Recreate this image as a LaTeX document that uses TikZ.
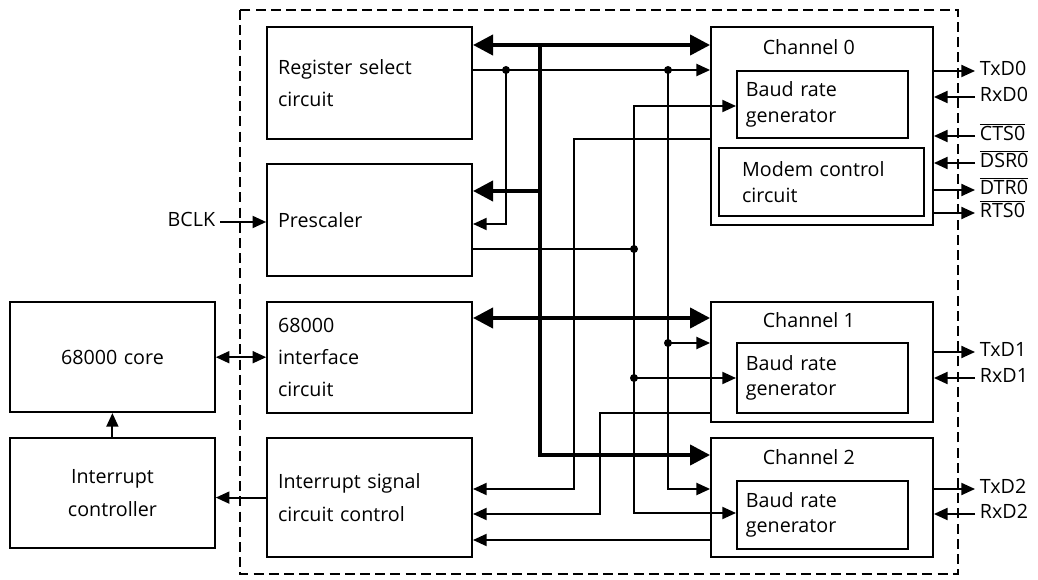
\documentclass[tikz,border=0pt]{standalone}
\usepackage{fontspec}
\setmainfont{Open Sans}
\usetikzlibrary{arrows.meta, positioning}
\tikzset{
  every picture/.style={line width=1.3pt},
  box/.style={draw, align=left, inner xsep=0.275cm, text width=#1, font=\fontsize{14}{23}\selectfont},
  box/.default=4.575cm,
  inbox/.style={draw, align=left, inner xsep=0.225cm, text width=#1, font=\fontsize{14}{18}\selectfont},
  inbox/.default=3.825cm,
  chan/.style={draw, minimum width=5.55cm},
  arrow/.style={-{Triangle[length=0.34cm, width=0.3cm]}},
  twoway/.style={{Triangle[length=0.34cm, width=0.3cm]}-{Triangle[length=0.34cm, width=0.3cm]}},
  bus/.style={line width=2.8pt, -{Triangle[length=0.5cm, width=0.5cm]}},
  busboth/.style={line width=2.8pt, {Triangle[length=0.5cm, width=0.5cm]}-{Triangle[length=0.5cm, width=0.5cm]}},
  pin/.style={font=\fontsize{14}{16}\selectfont, text height=1.5ex, text depth=.25ex, inner xsep=0.1cm},
  frame/.style={dash pattern=on 0.25cm off 0.13cm},
}

\begin{document}
\begin{tikzpicture}
  \useasboundingbox (0,0) rectangle (25.95,-14.5);
  % chip border
  \draw[frame] (6.0,-0.25) rectangle (23.95,-14.35);
  % left column inside the chip
  \node[box, minimum height=2.8cm] (reg) at (9.24,-2.08) {Register select\\circuit};
  \node[box, minimum height=2.8cm] (pre) at (9.24,-5.5) {Prescaler};
  \node[box, minimum height=2.78cm] (iface) at (9.24,-8.94) {68000\\interface\\circuit};
  \node[box, minimum height=2.98cm] (isig) at (9.24,-12.44) {Interrupt signal\\circuit control};
  % outside the chip
  \node[box, align=center, minimum height=2.75cm] (core) at (2.81,-8.93) {68000 core};
  \node[box, align=center, minimum height=2.75cm] (ictl) at (2.81,-12.33) {Interrupt\\controller};
  \node[pin, anchor=east] (bclk) at (5.5,-5.55) {BCLK};
  % channels
  \node[chan, minimum height=4.95cm] (ch0) at (20.55,-3.15) {};
  \node[inbox, minimum height=1.675cm] (brg0) at (20.56,-2.61) {Baud rate\\generator};
  \node[inbox=3.975cm, inner xsep=0.575cm, minimum height=1.7cm] (mdm0) at (20.54,-4.55) {Modem control\\circuit};
  \node[chan, minimum height=3.0cm] (ch1) at (20.55,-9.05) {};
  \node[inbox, minimum height=1.75cm] (brg1) at (20.56,-9.45) {Baud rate\\generator};
  \node[chan, minimum height=2.98cm] (ch2) at (20.55,-12.44) {};
  \node[inbox, minimum height=1.7cm] (brg2) at (20.56,-12.88) {Baud rate\\generator};
  \foreach \n/\y/\t in {ch0lbl/-1.25/Channel 0, ch1lbl/-8.075/Channel 1, ch2lbl/-11.5/Channel 2}
    \node[pin] (\n) at (20.22,\y) {\t};
  % pins on the right
  \foreach \n/\y/\t in {txd0/-1.775/TxD0, rxd0/-2.425/RxD0, cts0/-3.4/{$\overline{\hbox{CTS0}}$},
      dsr0/-4.075/{$\overline{\hbox{DSR0}}$}, dtr0/-4.75/{$\overline{\hbox{DTR0}}$}, rts0/-5.325/{$\overline{\hbox{RTS0}}$},
      txd1/-8.8/TxD1, rxd1/-9.45/RxD1, txd2/-12.225/TxD2, rxd2/-12.85/RxD2}
    \node[pin, anchor=west] (\n) at (24.375,\y) {\t};
  \foreach \c/\n in {ch0/txd0, ch0/dtr0, ch0/rts0, ch1/txd1, ch2/txd2}
    \draw[arrow] (\c.east |- \n.west) -- (\n.west);
  \foreach \c/\n in {ch0/rxd0, ch0/cts0, ch0/dsr0, ch1/rxd1, ch2/rxd2}
    \draw[arrow] (\n.west) -- (\c.east |- \n.west);

  % junction points
  \coordinate (busTop) at (13.5,-1.125);
  \coordinate (preBus) at (13.5,-4.775);
  \coordinate (ifBus) at (13.5,-7.95);
  \coordinate (busBot) at (13.5,-11.375);
  \coordinate (rsA) at (12.65,-1.75);
  \coordinate (rsB) at (16.7,-1.75);
  \coordinate (preSel) at (12.65,-5.6);
  \coordinate (rsC) at (16.7,-8.575);
  \coordinate (rsD) at (16.7,-12.225);
  \coordinate (clkTop) at (15.85,-2.65);
  \coordinate (clkA) at (15.85,-6.225);
  \coordinate (clkB) at (15.85,-9.45);
  \coordinate (clkBot) at (15.85,-12.825);
  \coordinate (irq0a) at (14.35,-3.475);
  \coordinate (irq0b) at (14.35,-12.225);
  \coordinate (irq1a) at (15.0,-10.325);
  \coordinate (irq1b) at (15.0,-12.85);
  \coordinate (irq2) at (15.0,-13.5);

  % internal data bus
  \draw[busboth] (reg.east |- busTop) -- (ch0.west |- busTop);
  \draw[bus] (busTop) -- (busBot) -- (ch2.west |- busBot);
  \draw[bus] (preBus) -- (pre.east |- preBus);
  \draw[busboth] (iface.east |- ifBus) -- (ch1.west |- ifBus);
  % register select lines
  \draw[arrow] (reg.east |- rsA) -- (ch0.west |- rsA);
  \draw[arrow] (rsA) -- (preSel) -- (pre.east |- preSel);
  \draw (rsB) -- (rsC);
  \draw[arrow] (rsC) -- (ch1.west |- rsC);
  \draw[arrow] (rsC) -- (rsD) -- (ch2.west |- rsD);
  % prescaler clock to the baud rate generators
  \draw (pre.east |- clkA) -- (clkA);
  \draw[arrow] (clkA) -- (clkTop) -- (brg0.west |- clkTop);
  \draw[arrow] (clkB) -- (brg1.west |- clkB);
  \draw[arrow] (clkA) -- (clkBot) -- (brg2.west |- clkBot);
  % interrupt requests
  \draw[arrow] (ch0.west |- irq0a) -- (irq0a) -- (irq0b) -- (isig.east |- irq0b);
  \draw[arrow] (ch1.west |- irq1a) -- (irq1a) -- (irq1b) -- (isig.east |- irq1b);
  \draw[arrow] (ch2.west |- irq2) -- (isig.east |- irq2);
  \foreach \p in {rsA, rsB, rsC, clkA, clkB}
    \fill (\p) circle (0.1);
  % outside links
  \draw[arrow] (bclk.east) -- (pre.west |- bclk.east);
  \draw[twoway] (core.east) -- (iface.west |- core.east);
  \draw[arrow] (ictl.north) -- (core.south);
  \draw[arrow] (isig.west) -- (ictl.east |- isig.west);
\end{tikzpicture}
\end{document}
